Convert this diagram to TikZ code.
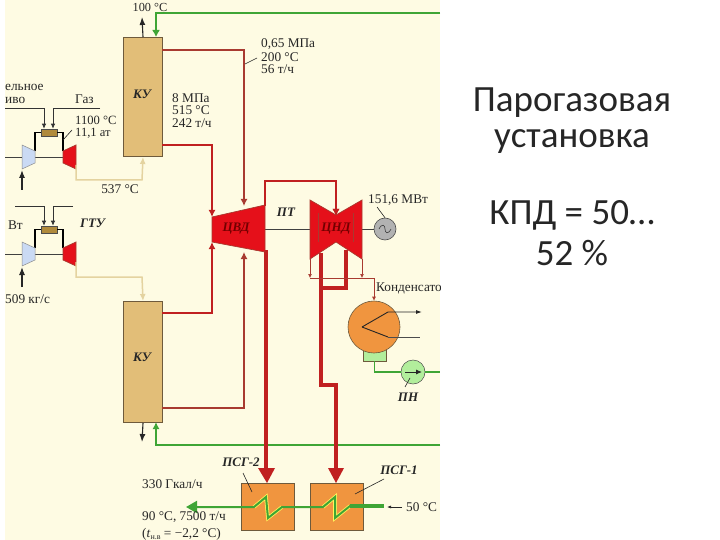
\documentclass[tikz,border=0pt]{standalone}
\usepackage{fontspec}
\setmainfont{Liberation Serif}
\newfontfamily\slidefont{Carlito}
\usetikzlibrary{arrows.meta,calc}
\definecolor{cream}{HTML}{FEFBE3}
\definecolor{kutan}{HTML}{E2BE78}
\definecolor{kuedge}{HTML}{6E5A3C}
\definecolor{steam}{HTML}{C02020}
\definecolor{thinsteam}{HTML}{A83A30}
\definecolor{turbred}{HTML}{E5101A}
\definecolor{water}{HTML}{3FA535}
\definecolor{exhaust}{HTML}{E4D3A0}
\definecolor{compblue}{HTML}{CADAF4}
\definecolor{orangebox}{HTML}{F0953F}
\definecolor{palegreen}{HTML}{B2EE9C}
\definecolor{chamber}{HTML}{B08A3C}
\tikzset{
  lbl/.style={font=\fontsize{13.3}{15}\selectfont,inner sep=0pt,text=black!85},
  ilbl/.style={lbl,font=\fontsize{13}{15}\selectfont\itshape\bfseries},
  slide/.style={font=\slidefont\fontsize{37}{44}\selectfont,inner sep=0pt,text=black!85},
  kubox/.style={draw=kuedge,line width=1pt,fill=kutan,minimum width=39pt,inner sep=0pt,anchor=north west},
  psgbox/.style={draw=kuedge,line width=0.8pt,fill=orangebox,minimum width=53pt,minimum height=47pt,inner sep=0pt,anchor=north west},
  comb/.style={draw=black!70,line width=0.5pt,fill=chamber,minimum width=16pt,minimum height=7pt,inner sep=0pt},
  thick steam/.style={draw=steam,line width=3.6pt},
  med steam/.style={draw=steam,line width=2pt,-{Latex[length=7pt,width=7pt]}},
  thin steam/.style={draw=thinsteam,line width=1.3pt,-{Latex[length=7pt,width=7pt]}},
  hair steam/.style={draw=thinsteam,line width=0.7pt,-{Latex[length=4pt,width=4pt]}},
  gas/.style={draw=exhaust,line width=1.5pt,-{Latex[length=7pt,width=6pt]}},
  blk/.style={draw=black!85,line width=1.1pt,-{Latex[length=8pt,width=6pt]}},
  pipe/.style={draw=black,line width=1.6pt},
  fuel/.style={draw=black!80,line width=0.8pt,-{Latex[length=5pt,width=4.5pt]}},
  shaft/.style={draw=black!75,line width=0.6pt},
  leader/.style={draw=black!85,line width=0.6pt},
  greenline/.style={draw=water,line width=1.3pt},
  compressor/.style={draw=black!45,line width=0.5pt,fill=compblue},
  turbine/.style={draw=thinsteam,line width=0.7pt,fill=turbred},
}
\begin{document}
\begin{tikzpicture}[x=1pt,y=-1pt]
\useasboundingbox (0,0) rectangle (720,540);
\fill[white] (0,0) rectangle (720,540);
\begin{scope}
\clip (5,0) rectangle (440,540);
\fill[cream] (5,0) rectangle (440,540);

% boilers
\node[kubox,minimum height=119pt] (ku1) at (123,37) {};
\node[kubox,minimum height=121pt] (ku2) at (123,301) {};
\node[ilbl] (ku1t) at (142,94) {КУ};
\node[ilbl] (ku2t) at (142,357) {КУ};

% gas turbine sets
\foreach \o/\n in {0/a,97/b}{
  \coordinate (sh\n) at (5,157+\o);
  \coordinate (cl\n) at (22,157+\o);
  \coordinate (cr\n) at (35,157+\o);
  \coordinate (tl\n) at (63,157+\o);
  \node[comb] (cc\n) at (49,132.5+\o) {};
  \draw[pipe] (35,151+\o) |- (cc\n.west);
  \draw[pipe] (63,151+\o) |- (cc\n.east);
  \draw[shaft] (cr\n) -- (tl\n);
  \draw[compressor] (22,145+\o) -- (35,151+\o) -- (35,163+\o) -- (22,169+\o) -- cycle;
  \draw[turbine] (63,151+\o) -- (76,145+\o) -- (76,169+\o) -- (63,163+\o) -- cycle;
  \coordinate (ex\n) at (76,165+\o);
}
\draw[shaft] (sha) -- (cla);
\draw[shaft] (shb) -- (clb);

\coordinate (fa1) at (0,108);
\coordinate (fa2) at (100,108);
\coordinate (fb1) at (15,206);
\coordinate (fb2) at (73,206);
\draw[fuel] (fa1) -| ($(cca.north)+(-5,0)$);
\draw[fuel] (fa2) -| ($(cca.north)+(4,0)$);
\draw[fuel] (fb1) -| ($(ccb.north)+(-5,0)$);
\draw[fuel] (fb2) -| ($(ccb.north)+(4,0)$);

\coordinate (ain1) at (22,190);
\coordinate (ain1e) at (22,170);
\coordinate (ain2) at (22,287);
\coordinate (ain2e) at (22,267);
\draw[blk] (ain1) -- (ain1e);
\draw[blk] (ain2) -- (ain2e);

\draw[gas] (exa) |- (142,180) -- (ku1.south);
\draw[gas] (exb) |- (142,277) -- (ku2.north);

% stacks
\coordinate (st1) at (142,17);
\coordinate (st2) at (142,442);
\draw[blk] (ku1.north) -- (st1);
\draw[blk] (ku2.south) -- (st2);

% feedwater
\coordinate (gr1) at (440,13);
\coordinate (gr2) at (440,445);
\coordinate (ku1w) at (156,37);
\coordinate (ku2w) at (156,422);
\draw[draw=water,line width=2pt,-{Latex[length=7pt,width=8pt]}] (gr1) -| (ku1w);
\draw[greenline,-{Latex[length=7pt,width=7pt]}] (gr2) -| (ku2w);

% turbines
\coordinate (hp1) at (212,229);
\coordinate (hp2) at (265,229);
\coordinate (lp1) at (310,229);
\coordinate (lp2) at (362,229);
\node[circle,draw=black!70,line width=0.6pt,fill=black!30,minimum size=22pt,inner sep=0pt] (gen) at (385,229) {};
\draw[shaft] (hp2) -- (lp1);
\draw[shaft] (lp2) -- (gen.west);
\draw[black!75,line width=0.6pt] (379,229) .. controls (382,223) and (385,225) .. (385,229) .. controls (385,233) and (388,235) .. (391,229);

% thick steam
\draw[thick steam] (266,250) -- (266,470);
\draw[thick steam] (321,253) -- (321,385) -- (336,385) -- (336,470);
\draw[thick steam] (321,288) -- (346,288) -- (346,250);
\fill[steam] (258,468) -- (275,468) -- (267,483) -- cycle;
\fill[steam] (328,468) -- (344,468) -- (336,483) -- cycle;

% HP steam
\coordinate (hpin1) at (212,217);
\coordinate (hpin2) at (212,242);
\coordinate (hpin3) at (244,206);
\coordinate (hpin4) at (244,252);
\draw[med steam] (162,145) -| (hpin1);
\draw[med steam] (162,313) -| (hpin2);
\draw[thin steam] (162,50) -| (hpin3);
\draw[thin steam] (162,408) -| (hpin4);

\draw[turbine,draw=thinsteam] (212,217) -- (265,205) -- (265,252) -- (212,242) -- cycle;
\node[ilbl,text=black!55!red] (cvd) at (236,229) {ЦВД};

\coordinate (lpin) at (336,216);
\draw[med steam] (265,206) -- (265,181) -| (lpin);
\draw[turbine] (310,200) -- (336,215) -- (362,200) -- (362,259) -- (336,242) -- (310,259) -- cycle;
\draw[thinsteam,line width=0.8pt] (318,213) -- (318,242);
\draw[thinsteam,line width=0.8pt] (353,213) -- (353,242);
\node[ilbl,text=black!55!red] (cnd) at (336,229) {ЦНД};
\draw[med steam] (336,190) -- (lpin);

% condenser
\node[draw=kuedge,line width=0.7pt,fill=palegreen,minimum width=23pt,minimum height=16pt,inner sep=0pt] (hw) at (374.5,353) {};
\node[circle,draw=kuedge,line width=0.6pt,fill=orangebox,minimum size=52pt,inner sep=0pt] (cond) at (374,327) {};
\coordinate (cc) at (362,327);
\coordinate (cout) at (422,312);
\coordinate (cin) at (420,337);
\draw[black!85,line width=0.9pt,-{Latex[length=6pt,width=4pt]}] (cc) -- (388,312) -- (cout);
\draw[black!85,line width=0.9pt] (cc) -- (388,337);
\draw[black!70,line width=0.6pt] (388,337) -- (cin);

\coordinate (l1) at (310,259);
\coordinate (l2) at (362,259);
\draw[hair steam] (l1) -- (310,278);
\draw[hair steam] (l2) -- (362,278);
\draw[hair steam] (310,278) -| (cond.north);

% pump
\node[circle,draw=black!70,line width=0.5pt,fill=palegreen,minimum size=24pt,inner sep=0pt] (pump) at (413,372) {};
\coordinate (pout) at (440,372);
\draw[greenline] (hw.south) |- (pump.west);
\draw[greenline] (pump.east) -- (pout);
\coordinate (p1) at (405,372);
\coordinate (p2) at (422,372);
\draw[black!85,line width=0.9pt,-{Latex[length=6pt,width=5pt]}] (p1) -- (p2);

% heaters
\node[psgbox] (psg2) at (241,483) {};
\node[psgbox] (psg1) at (310,483) {};
\coordinate (wout) at (186,507);
\coordinate (win) at (384,506);
\draw[draw=yellow!60!cream,line width=3.6pt,line join=miter]
  (350,506) -- (335,518) -- (335,497) -- (323,507);
\draw[draw=yellow!60!cream,line width=3.6pt,line join=miter]
  (282,507) -- (268,518) -- (266,497) -- (254,507);
\draw[draw=water,line width=2pt,line join=miter] (297,507) -- (323,507) -- (335,497) -- (335,518) -- (350,506) -- (355,506);
\draw[draw=water,line width=3.2pt] (350,506) -- (win);
\draw[draw=water,line width=2pt,line join=miter,-{Triangle[length=11pt,width=12pt]}] (297,507) -- (282,507) -- (268,518) -- (266,497) -- (254,507) -- (wout);

% leaders
\coordinate (ld1) at (63,140); \coordinate (ld2) at (72,130);
\draw[leader] (ld1) -- (ld2);
\coordinate (ld3) at (245,64); \coordinate (ld4) at (257,58);
\draw[leader] (ld3) -- (ld4);
\coordinate (ld5) at (377,207); \draw[leader] (ld5) -- (gen.north);
\coordinate (ld6) at (405,387); \coordinate (ld6b) at (410,378); \draw[leader] (ld6) -- (ld6b);
\coordinate (ld7) at (243,473); \coordinate (ld8) at (252,492);
\draw[leader] (ld7) -- (ld8);
\coordinate (ld9) at (384,479); \coordinate (ld10) at (355,494);
\draw[leader] (ld9) -- (ld10);
\coordinate (ld11) at (402,507); \coordinate (ld12) at (387,507);
\draw[leader,-{Latex[length=4pt,width=3pt]}] (ld11) -- (ld12);

% labels
\node[lbl,font=\fontsize{12.3}{14}\selectfont] (t100) at (150,7) {100 °C};
\node[lbl,anchor=west] (t1) at (5,87) {ельное};
\node[lbl,anchor=west] (t2) at (5,100) {иво};
\node[lbl,anchor=west] (t3) at (75,99) {Газ};
\node[lbl,anchor=west,font=\fontsize{12.6}{14}\selectfont] (t4) at (75,120) {1100 °C};
\node[lbl,anchor=west,font=\fontsize{12.6}{14}\selectfont] (t5) at (75,133) {11,1 ат};
\node[lbl,anchor=west] (t6) at (172,98) {8 МПа};
\node[lbl,anchor=west] (t7) at (172,110) {515 °C};
\node[lbl,anchor=west] (t8) at (172,123) {242 т/ч};
\node[lbl,anchor=west] (t9) at (261,44) {0,65 МПа};
\node[lbl,anchor=west] (t10) at (261,57) {200 °C};
\node[lbl,anchor=west] (t11) at (261,69) {56 т/ч};
\node[lbl] (t12) at (120,189) {537 °C};
\node[ilbl,anchor=west] (t13) at (80,223) {ГТУ};
\node[lbl,anchor=east] (t14) at (23,225) {Вт};
\node[lbl,anchor=west] (t15) at (5,299) {509 кг/с};
\node[ilbl] (t16) at (286,212) {ПТ};
\node[lbl,anchor=west] (t17) at (368,200) {151,6 МВт};
\node[lbl,anchor=west] (t18) at (376,289) {Конденсатор};
\node[ilbl] (t19) at (408,397) {ПН};
\node[ilbl] (t20) at (241,462) {ПСГ-2};
\node[ilbl] (t21) at (399,470) {ПСГ-1};
\node[lbl,anchor=west] (t22) at (142,484) {330 Гкал/ч};
\node[lbl,anchor=west] (t23) at (142,517) {90 °C, 7500 т/ч};
\node[lbl,anchor=west] (t24) at (142,534) {(\textit{t}\raisebox{-2pt}{\fontsize{8}{8}\selectfont н.в} = −2,2 °C)};
\node[lbl,anchor=west] (t25) at (406,507) {50 °C};
\end{scope}

% slide text
\node[slide] (s1) at (572,103) {Парогазовая};
\node[slide] (s2) at (572,141) {установка};
\node[slide] (s3) at (572,215) {КПД = 50…};
\node[slide] (s4) at (572,253) {52 \%};
\end{tikzpicture}
\end{document}
